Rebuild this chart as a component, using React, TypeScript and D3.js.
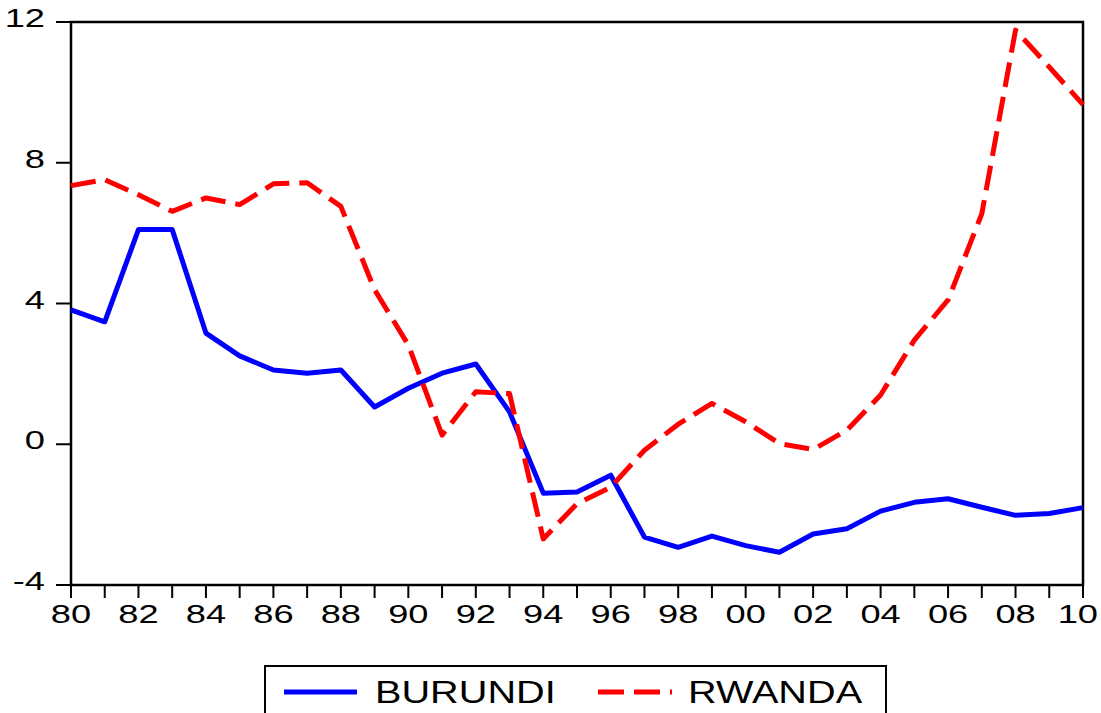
import React, { useEffect, useRef } from 'react';
import * as d3 from 'd3';

const years = d3.range(1980, 2011);
const burundi = [
  3.82, 3.48, 6.1, 6.1, 3.16, 2.51, 2.11, 2.02, 2.11, 1.06,
  1.59, 2.02, 2.28, 0.92, -1.39, -1.36, -0.88, -2.64, -2.93, -2.61,
  -2.88, -3.07, -2.55, -2.4, -1.9, -1.65, -1.55, -1.79, -2.02, -1.97,
  -1.8,
];
const rwanda = [
  7.35, 7.52, 7.09, 6.62, 7.0, 6.81, 7.4, 7.43, 6.76, 4.39,
  2.82, 0.26, 1.49, 1.44, -2.69, -1.69, -1.22, -0.17, 0.57, 1.16,
  0.64, 0.02, -0.15, 0.4, 1.4, 2.96, 4.1, 6.55, 11.77, 10.72,
  9.65,
];
const yTicks = [-4, 0, 4, 8, 12];
const xTickYears = d3.range(1980, 2011, 2);
const seriesNames = ['BURUNDI', 'RWANDA'];

export default function App() {
  const svgRef = useRef(null);

  useEffect(() => {
    const width = 1101;
    const height = 713;
    const margin = { top: 22, right: 18, bottom: 128, left: 71 };
    const innerWidth = width - margin.left - margin.right;
    const innerHeight = height - margin.top - margin.bottom;

    const svg = d3.select(svgRef.current);
    svg.selectAll('*').remove();
    svg.attr('width', width).attr('height', height);

    const g = svg.append('g').attr('transform', `translate(${margin.left},${margin.top})`);

    const x = d3.scaleLinear().domain([1980, 2010]).range([0, innerWidth]);
    const y = d3.scaleLinear().domain([-4, 12]).range([innerHeight, 0]);

    const font = "'Liberation Sans', Arial, sans-serif";

    // frame
    g.append('rect')
      .attr('width', innerWidth).attr('height', innerHeight)
      .attr('fill', 'none').attr('stroke', '#000').attr('stroke-width', 2.5);

    // y ticks + labels
    yTicks.forEach(t => {
      g.append('line')
        .attr('x1', -15).attr('x2', 0)
        .attr('y1', y(t)).attr('y2', y(t))
        .attr('stroke', '#000').attr('stroke-width', 2);
      g.append('text')
        .attr('transform', `translate(-26,${y(t) + 5}) scale(1.45,1)`)
        .attr('text-anchor', 'end')
        .attr('font-family', font).attr('font-size', 25)
        .text(t);
    });

    // x ticks (every year) + labels (every 2 years)
    years.forEach(yr => {
      g.append('line')
        .attr('x1', x(yr)).attr('x2', x(yr))
        .attr('y1', innerHeight).attr('y2', innerHeight + 13)
        .attr('stroke', '#000').attr('stroke-width', 2);
    });
    xTickYears.forEach((yr, i) => {
      const last = i === xTickYears.length - 1;
      // last label is pulled in so it stays inside the picture
      g.append('text')
        .attr('transform', `translate(${last ? innerWidth + 15 : x(yr)},${innerHeight + 38}) scale(1.45,1)`)
        .attr('text-anchor', last ? 'end' : 'middle')
        .attr('font-family', font).attr('font-size', 25)
        .text(String(yr % 100).padStart(2, '0'));
    });

    const line = d3.line().x(d => x(d[0])).y(d => y(d[1]));

    g.append('path')
      .datum(years.map((yr, i) => [yr, burundi[i]]))
      .attr('d', line)
      .attr('fill', 'none').attr('stroke', '#0000ff').attr('stroke-width', 5)
      .attr('stroke-linejoin', 'round');

    g.append('path')
      .datum(years.map((yr, i) => [yr, rwanda[i]]))
      .attr('d', line)
      .attr('fill', 'none').attr('stroke', '#ff0000').attr('stroke-width', 5)
      .attr('stroke-dasharray', '25 10')
      .attr('stroke-linejoin', 'round');

    // Legend
    const legend = svg.append('g').attr('transform', 'translate(265,666)');
    legend.append('rect')
      .attr('width', 621).attr('height', 60)
      .attr('fill', 'white').attr('stroke', '#000').attr('stroke-width', 2);
    legend.append('line')
      .attr('x1', 19).attr('x2', 92).attr('y1', 26).attr('y2', 26)
      .attr('stroke', '#0000ff').attr('stroke-width', 5);
    legend.append('line')
      .attr('x1', 333).attr('x2', 407).attr('y1', 26).attr('y2', 26)
      .attr('stroke', '#ff0000').attr('stroke-width', 5)
      .attr('stroke-dasharray', '26 10');
    legend.append('text')
      .attr('transform', 'translate(110,37) scale(1.24,1)')
      .attr('font-family', font).attr('font-size', 32)
      .text(seriesNames[0]);
    legend.append('text')
      .attr('transform', 'translate(423,37) scale(1.24,1)')
      .attr('font-family', font).attr('font-size', 32)
      .text(seriesNames[1]);
  }, []);

  return (
    <div style={{ position: 'absolute', left: 0, top: 0 }}>
      <svg ref={svgRef} style={{ display: 'block' }} />
    </div>
  );
}
